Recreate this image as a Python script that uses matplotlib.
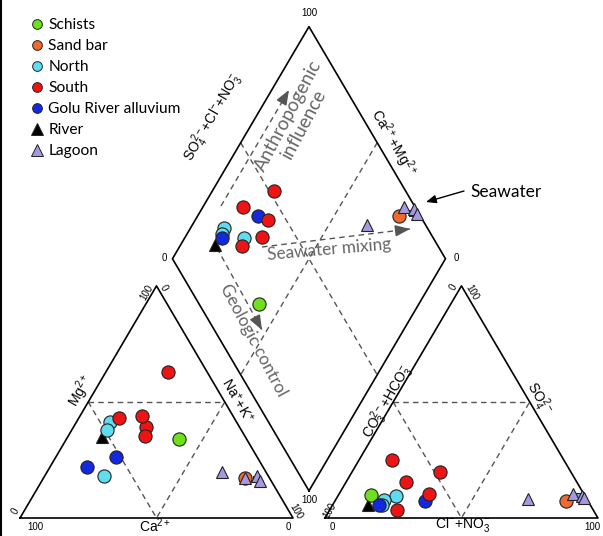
import numpy as np
import matplotlib
matplotlib.use("Agg")
import matplotlib.pyplot as plt
from matplotlib.lines import Line2D

plt.rcParams['mathtext.fontset'] = 'custom'
plt.rcParams['mathtext.rm'] = 'Liberation Sans'
plt.rcParams['mathtext.it'] = 'Liberation Sans'
plt.rcParams['mathtext.bf'] = 'Liberation Sans:bold'

# ---------------- data (percent of meq/L) ----------------
sample_group = ["Schists", "Sand bar",
                "North", "North", "North",
                "South", "South", "South", "South", "South",
                "Golu River alluvium", "Golu River alluvium",
                "River",
                "Lagoon", "Lagoon", "Lagoon", "Lagoon",
                "Seawater"]
mg_pct  = [33.9, 17.4, 18.1, 41.5, 37.9, 63.0, 43.2, 39.3, 35.3, 44.0, 26.4, 21.8, 35.0, 19.7, 17.4, 18.2, 16.1, 17.0]
nak_pct = [41.4, 73.7, 21.8, 12.2, 12.8, 22.6, 14.8, 26.5, 28.1, 22.6, 22.0, 13.7, 12.4, 64.0, 73.7, 77.6, 79.9, 78.0]
so4_pct = [9.9, 7.5, 9.3, 7.8, 5.5, 19.8, 24.8, 10.3, 15.6, 3.5, 7.5, 5.6, 5.6, 8.0, 10.2, 9.4, 8.6, 9.5]
cl_pct  = [11.9, 84.5, 21.3, 17.7, 18.0, 32.2, 12.3, 33.1, 22.0, 24.8, 32.9, 17.0, 12.9, 70.4, 85.7, 89.6, 90.6, 88.0]

legend_groups = ["Schists", "Sand bar", "North", "South", "Golu River alluvium", "River", "Lagoon"]
draw_order = ["River", "Schists", "North", "Golu River alluvium", "South", "Sand bar", "Seawater", "Lagoon"]

style = {
    "Schists": dict(marker='o', color='#6ee01e', ms=9.5),
    "Sand bar": dict(marker='o', color='#f06a30', ms=9.5),
    "North": dict(marker='o', color='#5fdcf0', ms=9.5),
    "South": dict(marker='o', color='#ee1414', ms=9.5),
    "Golu River alluvium": dict(marker='o', color='#1428e0', ms=9.5),
    "River": dict(marker='^', color='#000000', ms=9),
    "Lagoon": dict(marker='^', color='#a898e0', ms=9),
    "Seawater": dict(marker='s', color='#58b8f5', ms=5),
}

# ---------------- geometry ----------------
h = np.sqrt(3) / 2
g = 0.117
SX, SY = 273.0, 268.0          # pixels per unit
X0, Y0 = 20.0, 518.0           # pixel position of cation-triangle origin
W, H = 603, 536

fig = plt.figure(figsize=(W / 100, H / 100), dpi=100)
ax = fig.add_axes([0, 0, 1, 1])
ax.set_xlim(-X0 / SX, (W - X0) / SX)
ax.set_ylim((Y0 - H) / SY, Y0 / SY)
ax.axis('off')


def P(xp, yp):
    """pixel position -> data coordinates (for label placement)"""
    return (xp - X0) / SX, (Y0 - yp) / SY


mg = np.array(mg_pct) / 100
nak = np.array(nak_pct) / 100
so4 = np.array(so4_pct) / 100
cl = np.array(cl_pct) / 100
ca = 1 - mg - nak

cat_x = nak + 0.5 * mg
cat_y = h * mg
an_x = 1 + g + cl + 0.5 * so4
an_y = h * so4
alpha = ca + mg
beta = so4 + cl
dia_x = 1 + g / 2 + 0.5 * (beta - alpha)
dia_y = g * h + h * (alpha + beta)

# outlines
lw = 1.2
cat_tri = np.array([[0, 0], [1, 0], [0.5, h], [0, 0]])
an_tri = cat_tri + np.array([1 + g, 0])
B = np.array([1 + g / 2, g * h])
R = B + np.array([0.5, h])
T = B + np.array([0, 2 * h])
L = B + np.array([-0.5, h])
dia = np.array([B, R, T, L, B])
for poly in (cat_tri, an_tri, dia):
    ax.plot(poly[:, 0], poly[:, 1], color='k', lw=lw, zorder=2)

# dashed subdivisions
dkw = dict(color='#555555', lw=1.0, ls=(0, (4, 3)), zorder=1)
for off in (0, 1 + g):
    ax.plot([off + 0.25, off + 0.75], [h / 2, h / 2], **dkw)
    ax.plot([off + 0.25, off + 0.5, off + 0.75], [h / 2, 0, h / 2], **dkw)
mUL, mLR = (L + T) / 2, (B + R) / 2
mUR, mLL = (T + R) / 2, (L + B) / 2
ax.plot([mUL[0], mLR[0]], [mUL[1], mLR[1]], **dkw)
ax.plot([mUR[0], mLL[0]], [mUR[1], mLL[1]], **dkw)

# data points
sg = np.array(sample_group)
for grp in draw_order:
    m = sg == grp
    st = style[grp]
    for xs, ys in ((cat_x, cat_y), (an_x, an_y), (dia_x, dia_y)):
        ax.plot(xs[m], ys[m], ls='none', marker=st['marker'], ms=st['ms'],
                mfc=st['color'], mec='#222222', mew=0.8, zorder=5)

# process arrows in the diamond
acol = '#555555'
def dashed_arrow(p0, p1):
    x0, y0 = P(*p0)
    x1, y1 = P(*p1)
    ax.plot([x0, x1], [y0, y1], color=acol, lw=1.0, ls=(0, (4, 3)), zorder=3)
    ax.annotate('', xy=(x1, y1), xytext=(x1 - 0.08 * (x1 - x0), y1 - 0.08 * (y1 - y0)),
                arrowprops=dict(arrowstyle='-|>,head_length=0.9,head_width=0.35',
                                color=acol, lw=1.0, shrinkA=0, shrinkB=0), zorder=3)

dashed_arrow((221, 206), (289, 90))
dashed_arrow((262, 247), (410, 229))
dashed_arrow((217, 248), (262, 330))

tfont = dict(family='Lato', color='#666666')
ax.text(*P(296, 120), 'Anthropogenic\ninfluence', rotation=62, ha='center', va='center',
        linespacing=1.0, fontsize=13.5, **tfont)
ax.text(*P(329, 250), 'Seawater mixing', rotation=5, ha='center', va='center', fontsize=12.3, **tfont)
ax.text(*P(253, 340), 'Geologic control', rotation=-62, ha='center', va='center', fontsize=12.3, **tfont)

ax.annotate('', xy=P(426, 202), xytext=P(464, 191),
            arrowprops=dict(arrowstyle='-|>,head_length=0.6,head_width=0.25', color='k', lw=1.0,
                            shrinkA=0, shrinkB=0))
ax.text(*P(470, 192), 'Seawater', family='Lato', fontsize=12.5, ha='left', va='center')

# axis labels
lf = dict(family='Liberation Sans', fontsize=10, ha='center', va='center')
ax.text(*P(213, 118), r'SO$_4^{2-}$+Cl$^{-}$+NO$_3^{-}$', rotation=60, **lf)
ax.text(*P(393, 143), r'Ca$^{2+}$+Mg$^{2+}$', rotation=-60, **lf)
ax.text(*P(81, 391), r'Mg$^{2+}$', rotation=60, **lf)
ax.text(*P(238, 400), r'Na$^{+}$+K$^{+}$', rotation=-60, **lf)
ax.text(*P(155, 526), r'Ca$^{2+}$', **lf)
ax.text(*P(388, 402), r'CO$_3^{2-}$+HCO$_3^{-}$', rotation=60, **lf)
ax.text(*P(538, 398), r'SO$_4^{2-}$', rotation=-60, **lf)
ax.text(*P(463, 524), r'Cl$^{-}$+NO$_3^{-}$', **lf)

# tick labels
tf = dict(family='Liberation Sans', fontsize=7, ha='center', va='center')
ax.text(*P(35, 527), '100', **tf)
ax.text(*P(288, 527), '0', **tf)
ax.text(*P(15, 511), '0', rotation=60, **tf)
ax.text(*P(147, 293), '100', rotation=60, **tf)
ax.text(*P(164, 288), '0', rotation=-60, **tf)
ax.text(*P(296, 511), '100', rotation=-60, **tf)
ax.text(*P(332, 527), '0', **tf)
ax.text(*P(592, 527), '100', **tf)
ax.text(*P(330, 511), '100', rotation=60, **tf)
ax.text(*P(309, 500), '100', **tf)
ax.text(*P(453, 287), '0', rotation=60, **tf)
ax.text(*P(472, 292), '100', rotation=-60, **tf)
ax.text(*P(309, 13), '100', **tf)
ax.text(*P(164, 258), '0', **tf)
ax.text(*P(456, 258), '0', **tf)

# legend
handles = []
for grp in legend_groups:
    st = style[grp]
    handles.append(Line2D([], [], ls='none', marker=st['marker'], ms=7 if st['marker'] == 'o' else 8,
                          mfc=st['color'], mec='#222222', mew=0.7, label=grp))
ax.legend(handles=handles, loc='upper left', bbox_to_anchor=(28 / W, 1 - 18 / H),
          bbox_transform=fig.transFigure, frameon=False, prop=dict(family='Lato', size=11.2),
          handletextpad=0.2, labelspacing=0.45, handlelength=1.1, borderaxespad=0, borderpad=0)

fig.add_artist(Line2D([0.002, 0.002], [0, 1], transform=fig.transFigure, color='k', lw=1.5))

fig.savefig('out.png', dpi=100)
